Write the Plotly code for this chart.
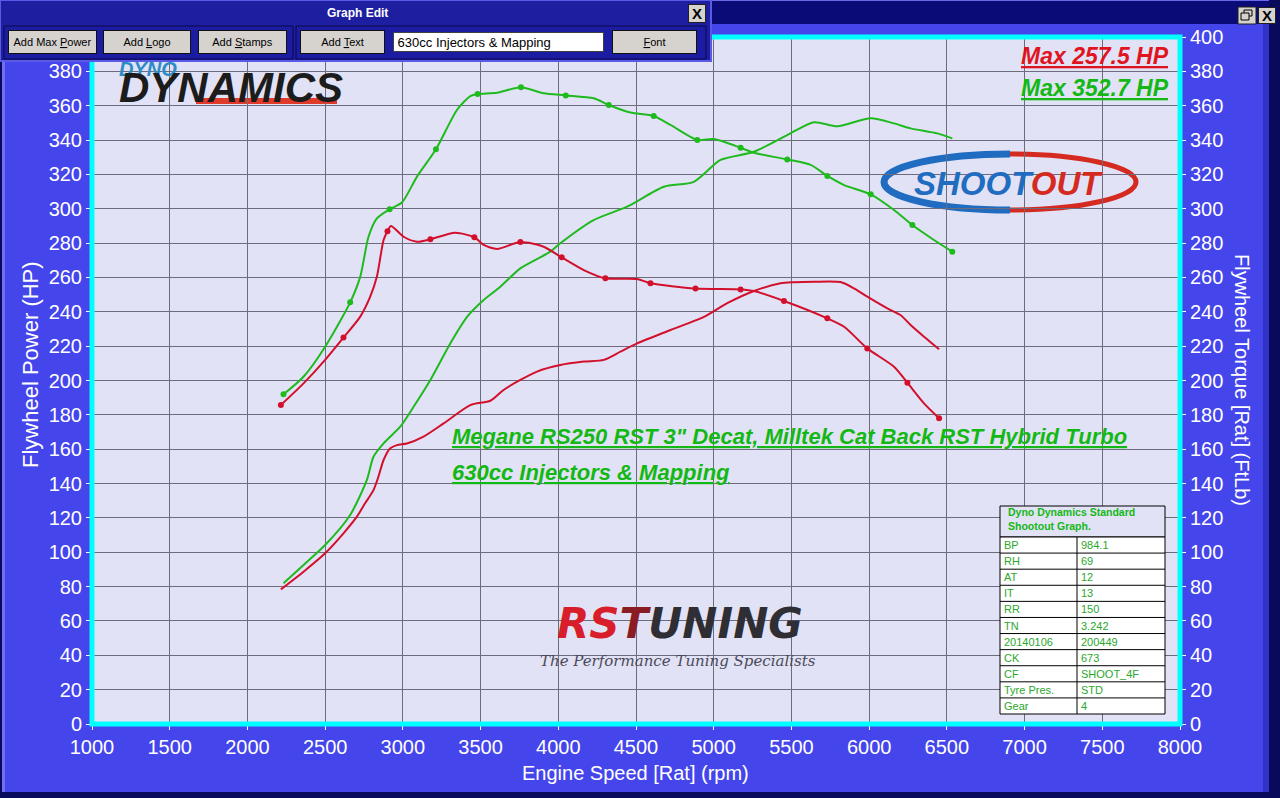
import plotly.graph_objects as go

# ---- dyno run (rpm / value) ----
red_power_rpm = [2215, 2361, 2500, 2618, 2704, 2757, 2811, 2843, 2876, 2919,
                 2962, 3026, 3133, 3262, 3434, 3563, 3648, 3756, 3863, 4013,
                 4164, 4293, 4400, 4507, 4722, 4937, 5087, 5259, 5430, 5516,
                 5645, 5816, 5903, 5988, 6117, 6203, 6267, 6353, 6450]
red_power_hp = [78.4, 88.7, 99.4, 111, 120.7, 128.5, 136.2, 144, 153.7, 160.5,
                162.4, 163.3, 167.3, 175, 185.7, 188.2, 194.5, 200.3, 205.2, 209,
                211, 212, 216.8, 221.6, 229.4, 237.1, 245, 252.1, 256.6, 257.2,
                257.5, 257.3, 253.6, 248.8, 242, 238, 232.3, 225.5, 218.2]

red_torque_rpm = [2215, 2361, 2500, 2618, 2726, 2790, 2833, 2876, 2901, 2923,
                  3005, 3091, 3177, 3337, 3460, 3520, 3606, 3756, 3906, 4022,
                  4164, 4303, 4507, 4593, 4883, 5173, 5259, 5452, 5731, 5839,
                  5988, 6160, 6246, 6353, 6450]
red_torque_ftlb = [185.7, 198.3, 212, 225, 237.2, 248.8, 260.5, 281.8, 286.9, 290,
                   283.7, 280.8, 282.2, 286, 283.4, 278.9, 276.6, 280.6, 277.9, 271.7,
                   264.3, 259.5, 259.1, 256.6, 253.6, 253, 252.1, 246.3, 236.2, 231.3,
                   218.7, 208, 198.7, 186.7, 178]

green_power_rpm = [2232, 2361, 2500, 2661, 2768, 2811, 2876, 2983, 3069, 3177,
                   3305, 3413, 3520, 3627, 3756, 3949, 4013, 4228, 4443, 4679,
                   4872, 5044, 5259, 5473, 5645, 5795, 6010, 6160, 6267, 6439,
                   6535]
green_power_hp = [81.9, 92.6, 104.2, 121.7, 142, 155.6, 163.4, 173.1, 184.7, 200.3,
                  221.6, 237.1, 246.9, 254.6, 265.3, 275, 279.9, 293.4, 301.2, 312.8,
                  315.7, 328.4, 333.2, 342.9, 350.4, 348, 352.7, 349.7, 346.8, 343.9,
                  341]

green_torque_rpm = [2232, 2361, 2500, 2661, 2726, 2779, 2833, 2915, 2994, 3091,
                    3213, 3348, 3434, 3481, 3606, 3760, 3906, 4048, 4228, 4325,
                    4464, 4614, 4722, 4894, 5001, 5173, 5259, 5473, 5624, 5731,
                    5839, 6010, 6160, 6278, 6417, 6535]
green_torque_ftlb = [192, 202.2, 219.7, 245.5, 260.5, 283.7, 294.4, 299.7, 303.6, 318.7,
                     334.6, 357.5, 365.6, 366.8, 367.6, 370.7, 367.2, 366, 364.3, 360.4,
                     356, 354, 348.8, 340, 340.6, 335.5, 332.6, 328.7, 325.5, 319.1,
                     313.8, 308.4, 299.3, 290.5, 281.8, 275]

# the sample dots the dyno software puts on the torque traces
red_dot_rpm = [2215, 2618, 2901, 3177, 3460, 3756, 4022, 4303, 4593, 4883,
               5173, 5452, 5731, 5988, 6246, 6450]
red_dot_ftlb = [185.7, 225, 286.9, 282.2, 283.4, 280.6, 271.7, 259.5, 256.6, 253.6,
                253, 246.3, 236.2, 218.7, 198.7, 178]
green_dot_rpm = [2232, 2661, 2915, 3213, 3481, 3760, 4048, 4325, 4614, 4894,
                 5173, 5473, 5731, 6010, 6278, 6535]
green_dot_ftlb = [192, 245.5, 299.7, 334.6, 366.8, 370.7, 366, 360.4, 354, 340,
                  335.5, 328.7, 319.1, 308.4, 290.5, 275]

x_ticks = list(range(1000, 8001, 500))
y_ticks = list(range(0, 401, 20))
# the left "400" is hidden under the Graph Edit window on the sheet
y_ticks_left = [v for v in y_ticks if v < 400]

max_labels = ['Max 257.5 HP', 'Max 352.7 HP']
note_lines = ['Megane RS250 RST 3" Decat, Milltek Cat Back RST Hybrid Turbo',
              '630cc Injectors & Mapping']
stamp_title = ['Dyno Dynamics Standard', 'Shootout Graph.']
stamp_keys = ['BP', 'RH', 'AT', 'IT', 'RR', 'TN', '20140106', 'CK', 'CF', 'Tyre Pres.', 'Gear']
stamp_vals = ['984.1', '69', '12', '13', '150', '3.242', '200449', '673', 'SHOOT_4F', 'STD', '4']
toolbar_buttons = ['Add Max <u>P</u>ower', 'Add <u>L</u>ogo', 'Add <u>S</u>tamps',
                   'Add <u>T</u>ext', '<u>F</u>ont']
toolbar_field = '630cc Injectors & Mapping'

RED = '#d3102c'
GREEN = '#1eba1e'
TXT_GREEN = '#14b814'
FONT = 'Liberation Sans, Arial, sans-serif'

# plot area in page pixels
L, T, R, B = 92, 37, 1180, 724
W, H = R - L, B - T


def fx(x):
    return (x - L) / W


def fy(y):
    return (B - y) / H


def rect(x0, y0, x1, y1, fill, line=None, lw=1, layer='below'):
    return dict(type='rect', xref='paper', yref='paper', x0=fx(x0), x1=fx(x1),
                y0=fy(y1), y1=fy(y0), fillcolor=fill, layer=layer,
                line=dict(color=line or fill, width=lw if line else 0))


def hline(x0, x1, y, color, lw=1, layer='above'):
    return dict(type='line', xref='paper', yref='paper', x0=fx(x0), x1=fx(x1),
                y0=fy(y), y1=fy(y), layer=layer, line=dict(color=color, width=lw))


def vline(x, y0, y1, color, lw=1, layer='above'):
    return dict(type='line', xref='paper', yref='paper', x0=fx(x), x1=fx(x),
                y0=fy(y0), y1=fy(y1), layer=layer, line=dict(color=color, width=lw))


def text(x, y, s, size=12, color='white', xa='center', ya='middle', family=FONT, **kw):
    return dict(xref='paper', yref='paper', x=fx(x), y=fy(y), text=s, showarrow=False,
                xanchor=xa, yanchor=ya, font=dict(family=family, size=size, color=color), **kw)


def box(x0, y0, x1, y1, fill, line, s=' ', size=11, color='black', align='center', bw=1):
    return dict(xref='paper', yref='paper', x=fx(x0), y=fy(y0), xanchor='left', yanchor='top',
                width=x1 - x0 - 2 * bw, height=y1 - y0 - 2 * bw, text=s, showarrow=False,
                bgcolor=fill, bordercolor=line, borderwidth=bw, borderpad=0, align=align,
                font=dict(family=FONT, size=size, color=color))


def half_ellipse(cx, cy, rx, ry, side):
    k = 0.5523
    s = -1 if side == 'left' else 1
    pts = [(cx, cy - ry), (cx + s * k * rx, cy - ry), (cx + s * rx, cy - k * ry), (cx + s * rx, cy),
           (cx + s * rx, cy + k * ry), (cx + s * k * rx, cy + ry), (cx, cy + ry)]
    p = [f'{fx(x):.5f},{fy(y):.5f}' for x, y in pts]
    return f'M {p[0]} C {p[1]} {p[2]} {p[3]} C {p[4]} {p[5]} {p[6]}'


fig = go.Figure()

line_style = dict(width=2, shape='spline', smoothing=0.7)
fig.add_trace(go.Scatter(x=red_power_rpm, y=red_power_hp, mode='lines', name='Power',
                         line=dict(color=RED, **line_style), hoverinfo='skip'))
fig.add_trace(go.Scatter(x=green_power_rpm, y=green_power_hp, mode='lines', name='Power',
                         line=dict(color=GREEN, **line_style), hoverinfo='skip'))
fig.add_trace(go.Scatter(x=red_torque_rpm, y=red_torque_ftlb, mode='lines', name='Torque',
                         yaxis='y2', line=dict(color=RED, **line_style), hoverinfo='skip'))
fig.add_trace(go.Scatter(x=green_torque_rpm, y=green_torque_ftlb, mode='lines', name='Torque',
                         yaxis='y2', line=dict(color=GREEN, **line_style), hoverinfo='skip'))
fig.add_trace(go.Scatter(x=red_dot_rpm, y=red_dot_ftlb, mode='markers', yaxis='y2',
                         marker=dict(color=RED, size=6), hoverinfo='skip'))
fig.add_trace(go.Scatter(x=green_dot_rpm, y=green_dot_ftlb, mode='markers', yaxis='y2',
                         marker=dict(color=GREEN, size=6), hoverinfo='skip'))

# === window chrome ===
shapes = [
    rect(0, 0, 1280, 24, '#0b0b78'),
    rect(0, 0, 1280, 1, '#6a6ae8'),
    rect(0, 792, 1280, 798, '#0a0a5c'),
    rect(0, 0, 2, 798, '#0a0a5c'),
    rect(2, 24, 5, 792, '#7070f6'),
    rect(1263, 24, 1269, 792, '#3232c6'),
    rect(1269, 0, 1280, 798, '#0a0a5c'),
    rect(1238, 7, 1256, 24, '#d6d3ce', '#202020'),
    rect(1244, 10, 1252, 16, '#d6d3ce', '#000000'),
    rect(1241, 13, 1249, 20, '#d6d3ce', '#000000'),
]

# logos
shapes.append(rect(196, 98, 337, 104, '#e03a2a'))
shapes.append(dict(type='path', xref='paper', yref='paper', layer='below',
                   path=half_ellipse(1010, 182, 126, 28, 'left'),
                   line=dict(color='#1f6cc0', width=7)))
shapes.append(dict(type='path', xref='paper', yref='paper', layer='below',
                   path=half_ellipse(1010, 182, 126, 28, 'right'),
                   line=dict(color='#d42a20', width=5)))

# plot frame
shapes.append(dict(type='rect', xref='paper', yref='paper', x0=0, x1=1, y0=0, y1=1,
                   layer='above', line=dict(color='#00ffff', width=5)))

# stamp table
tx0, tx1, tcol, ty0, thead, ty1 = 1000, 1165, 1077, 506, 537, 714
row_h = (ty1 - thead) / len(stamp_keys)
shapes.append(rect(tx0, ty0, tx1, thead, '#e2e2f6', '#000000', 1, 'above'))
shapes.append(rect(tx0, thead, tx1, ty1, '#ffffff', '#000000', 1, 'above'))
for i in range(1, len(stamp_keys)):
    shapes.append(hline(tx0, tx1, thead + i * row_h, '#000000'))
shapes.append(vline(tcol, thead, ty1, '#000000'))

# Graph Edit tool window (over the top of the plot)
shapes.append(rect(0, 0, 711, 61, '#1e1ea0', '#5a5ae6', 2, 'above'))
shapes.append(rect(4, 26, 293, 59, '#1c1ca2', '#08084c', 1, 'above'))
shapes.append(rect(296, 26, 706, 59, '#1c1ca2', '#08084c', 1, 'above'))

annotations = [
    # axis titles
    text(30, 365, 'Flywheel Power (HP)', size=22, textangle=-90),
    text(1242, 380, 'Flywheel Torque [Rat] (FtLb)', size=20, textangle=90),
    text(635, 773, 'Engine Speed [Rat] (rpm)', size=20),
    # max readings
    text(1171, 56, f'<b><i><u>{max_labels[0]}</u></i></b>', size=23, color='#e0141e', xa='right'),
    text(1171, 88, f'<b><i><u>{max_labels[1]}</u></i></b>', size=23, color=TXT_GREEN, xa='right'),
    # run notes
    text(450, 437, f'<b><i><u>{note_lines[0]}</u></i></b>', size=22, color=TXT_GREEN, xa='left'),
    text(450, 472, f'<b><i><u>{note_lines[1]}</u></i></b>', size=22, color=TXT_GREEN, xa='left'),
    # logos
    text(117, 56, '<b><i>DYNO<br><span style="font-size:42px;color:#1c1c1c">DYNAMICS</span></i></b>',
         size=20, color='#2b8dc8', xa='left', ya='top', align='left'),
    text(1008, 183, '<b><i><span style="color:#1f6cc0">SHOOT</span>'
                    '<span style="color:#d42a20">OUT</span></i></b>', size=33),
    text(680, 623, '<b><i><span style="color:#d81e2a">RS</span><span style="color:#8a1c24">T</span>'
                   '<span style="color:#2e2e34">UNING</span></i></b>',
         size=42, family='DejaVu Sans, Liberation Sans, sans-serif'),
    text(678, 661, '<i>The Performance Tuning Specialists</i>', size=15, color='#4a4a58',
         family='DejaVu Serif, Liberation Serif, serif'),
    text(1006, 519, f'<b>{stamp_title[0]}<br>{stamp_title[1]}</b>', size=10.5, color=TXT_GREEN,
         xa='left', align='left'),
]
for i, (k, v) in enumerate(zip(stamp_keys, stamp_vals)):
    yc = thead + (i + 0.5) * row_h
    annotations.append(text(1002, yc, k, size=11, color='#2aa82a', xa='left'))
    annotations.append(text(1079, yc, v, size=11, color='#2aa82a', xa='left'))

annotations.append(text(357, 13, '<b>Graph Edit</b>', size=12))
annotations.append(box(688, 4, 706, 23, '#d6d3ce', '#202020', '<b>X</b>', size=15))
annotations.append(box(1258, 7, 1276, 24, '#d6d3ce', '#202020', '<b>X</b>', size=15))
button_x = [(8, 97), (103, 191), (198, 287), (300, 385), (612, 697)]
for lab, (b0, b1) in zip(toolbar_buttons, button_x):
    annotations.append(box(b0, 30, b1, 54, '#d6d3ce', '#101010', lab, size=11))
annotations.append(box(393, 32, 604, 52, '#ffffff', '#404040', '&nbsp;' + toolbar_field,
                       size=13, align='left'))

axis_common = dict(range=[0, 400], ticks='outside', ticklen=5, tickcolor='white',
                   tickfont=dict(family=FONT, size=20, color='white'), zeroline=False,
                   showline=False, fixedrange=True)

fig.update_layout(
    width=1280, height=798,
    margin=dict(l=L, r=1280 - R, t=T, b=798 - B, autoexpand=False),
    paper_bgcolor='#4545ec',
    plot_bgcolor='#e2e2f6',
    showlegend=False,
    hovermode=False,
    xaxis=dict(range=[1000, 8000], tickvals=x_ticks, ticks='outside', ticklen=5, tickcolor='white',
               tickfont=dict(family=FONT, size=20, color='white'), showgrid=True,
               gridcolor='#6c6c7c', gridwidth=1, zeroline=False, showline=False, fixedrange=True),
    yaxis=dict(tickvals=y_ticks_left, showgrid=True, gridcolor='#6c6c7c', gridwidth=1, **axis_common),
    yaxis2=dict(tickvals=y_ticks, overlaying='y', side='right', showgrid=False, **axis_common),
    shapes=shapes,
    annotations=annotations,
)

fig.write_html("out.html", config={'displayModeBar': False},
               post_script="document.body.style.margin='0';document.body.style.overflow='hidden';")
